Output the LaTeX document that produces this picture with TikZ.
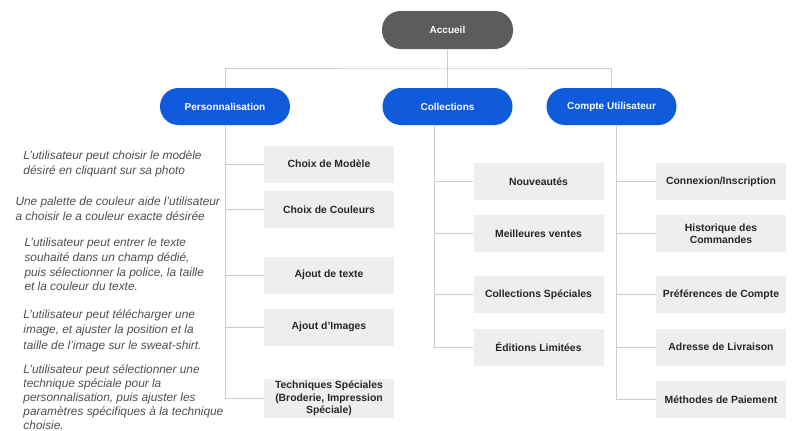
\documentclass[tikz,border=0pt]{standalone}
\usepackage{fontspec}
\setmainfont{Liberation Sans}
\definecolor{accgrey}{RGB}{92,92,92}
\definecolor{menublue}{RGB}{15,91,220}
\definecolor{boxgrey}{RGB}{238,238,238}
\definecolor{linegrey}{RGB}{204,204,204}
\definecolor{notegrey}{RGB}{78,78,78}
\tikzset{every picture/.style={line width=0.75pt}}
\tikzset{
	pill/.style={rectangle, rounded corners=13.8pt, minimum width=97.5pt, minimum height=27.75pt, inner sep=1pt, text=white, font=\fontsize{7.5}{9}\selectfont\bfseries},
	rootpill/.style={pill, fill=accgrey, minimum height=28.5pt, minimum width=98.25pt},
	menupill/.style={pill, fill=menublue},
	itembox/.style={rectangle, fill=boxgrey, minimum width=97.5pt, minimum height=27.75pt, inner sep=1pt, align=center, text=black!85, font=\fontsize{7.8}{9.2}\selectfont\bfseries},
	note/.style={anchor=west, inner sep=0pt, align=left, text=notegrey, font=\fontsize{8.9}{11}\selectfont\itshape},
	link/.style={draw=linegrey, line width=0.75pt}
}

\begin{document}
\begin{tikzpicture}[x=0.75pt,y=0.75pt,yscale=-1,xscale=1]
	\useasboundingbox (0,0) rectangle (800,430);

	%Shape: Pills
	\node[rootpill] (acc) at (447.5,30) {Accueil};
	\node[menupill] (perso) at (225,106.5) {Personnalisation};
	\node[menupill] (coll) at (447.5,106.5) {Collections};
	\node[menupill] (compte) at (611.5,106.5) {Compte Utilisateur};

	%Shape: Boxes -- Personnalisation
	\node[itembox] (modele) at (329,164) {Choix de Modèle};
	\node[itembox] (couleurs) at (329,209.5) {Choix de Couleurs};
	\node[itembox] (texte) at (329,275) {Ajout de texte};
	\node[itembox] (images) at (329,327) {Ajout d’Images};
	\node[itembox, minimum height=29.25pt] (techniques) at (329,398.5) {Techniques Spéciales\\(Broderie, Impression\\Spéciale)};

	%Shape: Boxes -- Collections
	\node[itembox] (nouveautes) at (538.5,181.5) {Nouveautés};
	\node[itembox] (ventes) at (538.5,233.5) {Meilleures ventes};
	\node[itembox] (speciales) at (538.5,294.5) {Collections Spéciales};
	\node[itembox] (editions) at (538.5,347) {Éditions Limitées};

	%Shape: Boxes -- Compte Utilisateur
	\node[itembox] (connexion) at (721,181.5) {Connexion/Inscription};
	\node[itembox] (historique) at (721,233.5) {Historique des\\Commandes};
	\node[itembox] (preferences) at (721,294.5) {Préférences de Compte};
	\node[itembox] (adresse) at (721,347) {Adresse de Livraison};
	\node[itembox] (paiement) at (721,399.5) {Méthodes de Paiement};

	%Straight Lines: top level
	\coordinate (bus) at (acc.south |- 0,68);
	\draw[link] (acc.south) -- (coll.north);
	\draw[link] (perso.north) |- (bus) -| (compte.north);

	%Straight Lines: Personnalisation
	\foreach \item in {modele,couleurs,texte,images,techniques}
		\draw[link] (perso.south) |- (\item.west);

	%Straight Lines: Collections
	\coordinate (collbus) at ([xshift=-9.4pt]coll.south);
	\foreach \item in {nouveautes,ventes,speciales,editions}
		\draw[link] (collbus) |- (\item.west);

	%Straight Lines: Compte Utilisateur
	\coordinate (comptebus) at ([xshift=4.1pt]compte.south);
	\foreach \item in {connexion,historique,preferences,adresse,paiement}
		\draw[link] (comptebus) |- (\item.west);

	% Text Node
	\node[note] (notemodele) at (23,164) {L’utilisateur peut choisir le modèle\\désiré en cliquant sur sa photo};
	% Text Node
	\node[note] (notecouleurs) at (15,209) {Une palette de couleur aide l’utilisateur\\a choisir le a couleur exacte désirée};
	% Text Node
	\node[note] (notetexte) at (24,264.5) {L’utilisateur peut entrer le texte\\souhaité dans un champ dédié,\\puis sélectionner la police, la taille\\et la couleur du texte.};
	% Text Node
	\node[note, font=\fontsize{8.9}{11.6}\selectfont\itshape] (noteimages) at (23,330.5) {L’utilisateur peut télécharger une\\image, et ajuster la position et la\\taille de l’image sur le sweat-shirt.};
	% Text Node
	\node[note, font=\fontsize{8.9}{10.6}\selectfont\itshape] (notetechniques) at (23,397) {L’utilisateur peut sélectionner une\\technique spéciale pour la\\personnalisation, puis ajuster les\\paramètres spécifiques à la technique\\choisie.};

\end{tikzpicture}
\end{document}
